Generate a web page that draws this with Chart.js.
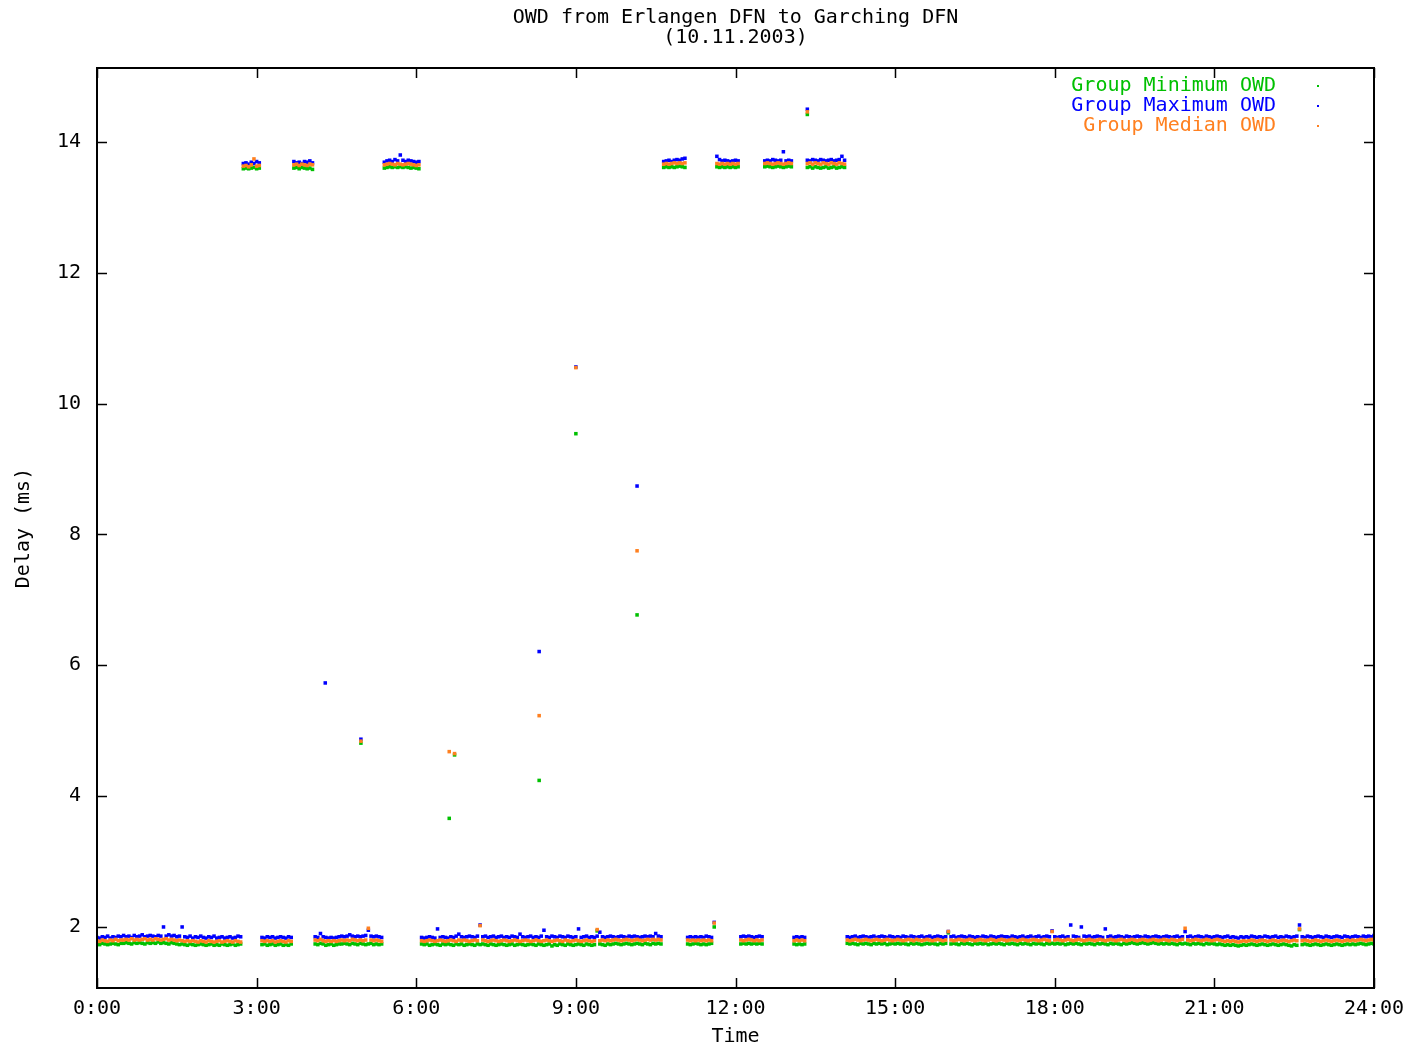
<!DOCTYPE html>
<html lang="en">
<head>
<meta charset="UTF-8">
<title>OWD from Erlangen DFN to Garching DFN</title>
<script src="https://cdn.jsdelivr.net/npm/chart.js"></script>
<style>
    body { margin: 0; background: #ffffff; }
    canvas { display: block; }
</style>
</head>
<body>
<canvas id="owd" width="1409" height="1047"></canvas>
<script>
// samples inside each measurement run, every 0.05 h (3 min)
const STEP = 0.05;
const segStart = [0, 2.75, 3.10, 3.70, 4.10, 5.40, 6.10, 10.65, 11.10, 11.65, 12.10, 12.55, 13.10, 13.35, 14.10];

const xTicks = [0, 3, 6, 9, 12, 15, 18, 21, 24];
const xTickLabels = ['0:00', '3:00', '6:00', '9:00', '12:00', '15:00', '18:00', '21:00', '24:00'];
const yTicks = [2, 4, 6, 8, 10, 12, 14];
const yTickLabels = ['2', '4', '6', '8', '10', '12', '14'];

// Group Maximum OWD (ms), one array per run
const maxBands = [
    [1.84,1.83,1.85,1.84,1.86,1.83,1.85,1.84,1.86,1.85, 1.87,1.85,1.86,1.84,1.87,1.85,1.86,1.88,1.85,1.86,
     1.87,1.86,1.85,1.87,1.86,2.00,1.86,1.88,1.86,1.87, 1.85,1.86,2.00,1.85,1.84,1.86,1.83,1.85,1.84,1.86,
     1.84,1.83,1.85,1.84,1.86,1.83,1.84,1.85,1.83,1.84, 1.85,1.83,1.84,1.86,1.85],
    [13.67,13.68,13.66,13.69,13.67,13.70,13.68],
    [1.84,1.83,1.85,1.84,1.85,1.83,1.84,1.85,1.84,1.83,1.85,1.84],
    [13.70,13.68,13.69,13.67,13.70,13.69,13.71,13.68],
    [1.85,1.84,1.90,1.85,1.84,1.83,1.84,1.83,1.84,1.85, 1.86,1.85,1.86,1.88,1.86,1.85,1.86,1.85,1.86,1.87,
     1.95,1.86,1.85,1.86,1.85,1.84],
    [13.69,13.71,13.72,13.70,13.73,13.71,13.80,13.72,13.70,13.72,13.71,13.70,13.69,13.70],
    [1.84,1.83,1.84,1.85,1.84,1.83,1.97,1.84,1.85,1.84, 1.83,1.85,1.84,1.86,1.89,1.85,1.84,1.85,1.86,1.85,
     1.84,1.86,2.03,1.85,1.86,1.84,1.85,1.86,1.84,1.85, 1.86,1.84,1.85,1.84,1.86,1.85,1.84,1.89,1.85,1.84,
     1.85,1.86,1.84,1.85,1.84,1.86,1.95,1.85,1.84,1.86, 1.85,1.84,1.86,1.85,1.84,1.86,1.85,1.84,1.85,1.97,
     1.84,1.85,1.86,1.84,1.85,1.84,1.86,1.92,1.85,1.84, 1.85,1.86,1.85,1.84,1.85,1.86,1.85,1.84,1.86,1.85,
     1.86,1.85,1.84,1.85,1.86,1.85,1.86,1.85,1.90,1.86, 1.85],
    [13.70,13.71,13.72,13.70,13.72,13.73,13.72,13.74,13.75],
    [1.84,1.85,1.84,1.85,1.84,1.85,1.84,1.86,1.85,1.84,2.07],
    [13.78,13.73,13.71,13.72,13.71,13.70,13.71,13.72,13.71],
    [1.85,1.86,1.85,1.86,1.85,1.84,1.85,1.86,1.85],
    [13.71,13.72,13.71,13.73,13.72,13.71,13.72,13.85,13.71,13.72,13.71],
    [1.84,1.85,1.84,1.85,1.84],
    [13.72,13.71,13.73,13.72,13.71,13.73,13.72,13.71,13.72,13.73,13.71,13.72,13.73,13.78,13.72],
    [1.85,1.84,1.85,1.86,1.84,1.85,1.86,1.85,1.84,1.85, 1.86,1.84,1.85,1.86,1.85,1.84,1.86,1.85,1.84,1.85,
     1.84,1.86,1.85,1.84,1.86,1.85,1.84,1.85,1.86,1.84, 1.85,1.86,1.84,1.85,1.86,1.85,1.84,1.85,1.93,1.85,
     1.86,1.84,1.85,1.86,1.85,1.84,1.86,1.85,1.84,1.85, 1.84,1.86,1.85,1.84,1.86,1.85,1.84,1.85,1.86,1.85,
     1.85,1.84,1.86,1.85,1.84,1.85,1.86,1.84,1.85,1.86, 1.84,1.85,1.86,1.84,1.85,1.86,1.85,1.94,1.85,1.84,
     1.85,1.86,1.84,1.85,2.03,1.86,1.85,1.84,2.00,1.86, 1.85,1.86,1.84,1.85,1.86,1.85,1.84,1.97,1.85,1.86,
     1.84,1.85,1.86,1.85,1.84,1.86,1.85,1.84,1.85,1.86, 1.85,1.84,1.86,1.85,1.84,1.85,1.86,1.85,1.84,1.85,
     1.86,1.85,1.84,1.85,1.86,1.84,1.85,1.93,1.85,1.86, 1.84,1.85,1.86,1.85,1.84,1.86,1.85,1.84,1.85,1.86,
     1.85,1.84,1.85,1.86,1.84,1.85,1.84,1.83,1.85,1.84, 1.85,1.84,1.86,1.85,1.84,1.85,1.84,1.86,1.85,1.84,
     1.85,1.86,1.84,1.85,1.84,1.86,1.85,1.84,1.85,1.86, 2.03,1.85,1.84,1.86,1.85,1.84,1.85,1.86,1.85,1.84,
     1.86,1.85,1.84,1.85,1.86,1.85,1.84,1.86,1.85,1.84, 1.85,1.86,1.85,1.84,1.86,1.85,1.86,1.85,1.87]
];

// Group Median OWD (ms)
const medBands = [
    [1.79,1.78,1.80,1.79,1.78,1.80,1.79,1.81,1.79,1.80, 1.80,1.81,1.80,1.82,1.80,1.81,1.80,1.81,1.82,1.80,
     1.81,1.80,1.82,1.81,1.80,1.81,1.82,1.80,1.81,1.80, 1.79,1.80,1.79,1.78,1.79,1.78,1.79,1.78,1.77,1.79,
     1.78,1.77,1.79,1.78,1.77,1.78,1.79,1.77,1.78,1.79, 1.78,1.77,1.79,1.78,1.77],
    [13.63,13.64,13.62,13.65,13.74,13.63,13.64],
    [1.79,1.78,1.79,1.78,1.79,1.77,1.78,1.79,1.78,1.77,1.79,1.78],
    [13.65,13.66,13.64,13.66,13.65,13.64,13.66,13.65],
    [1.80,1.79,1.81,1.79,1.78,1.79,1.78,1.79,1.78,1.79, 1.80,1.79,1.80,1.79,1.81,1.80,1.79,1.80,1.79,1.80,
     1.98,1.80,1.79,1.80,1.79,1.78],
    [13.65,13.66,13.67,13.66,13.65,13.67,13.66,13.65,13.66,13.67,13.66,13.65,13.64,13.65],
    [1.79,1.78,1.79,1.80,1.79,1.78,1.79,1.80,1.79,1.78, 1.79,1.80,1.79,1.78,1.80,1.79,1.80,1.79,1.78,1.79,
     1.80,1.79,2.02,1.80,1.79,1.78,1.79,1.80,1.79,1.78, 1.79,1.80,1.79,1.78,1.79,1.80,1.79,1.78,1.79,1.80,
     1.79,1.78,1.79,1.80,1.79,1.78,1.79,1.80,1.79,1.78, 1.79,1.80,1.79,1.78,1.80,1.79,1.78,1.79,1.80,1.79,
     1.78,1.79,1.80,1.79,1.78,1.79,1.96,1.79,1.80,1.79, 1.80,1.79,1.80,1.81,1.80,1.79,1.80,1.81,1.80,1.79,
     1.80,1.81,1.80,1.79,1.80,1.81,1.80,1.81,1.80,1.81, 1.80],
    [13.66,13.67,13.66,13.67,13.68,13.67,13.68,13.67,13.68],
    [1.80,1.79,1.80,1.79,1.80,1.79,1.80,1.79,1.80,1.79,2.06],
    [13.67,13.66,13.67,13.66,13.67,13.66,13.67,13.66,13.67],
    [1.80,1.79,1.80,1.81,1.80,1.79,1.80,1.79,1.80],
    [13.67,13.68,13.67,13.66,13.67,13.68,13.67,13.66,13.67,13.68,13.67],
    [1.79,1.80,1.79,1.80,1.79],
    [13.67,13.68,13.66,13.68,13.67,13.66,13.68,13.67,13.66,13.68,13.67,13.66,13.68,13.67,13.66],
    [1.80,1.79,1.80,1.81,1.80,1.79,1.80,1.81,1.80,1.79, 1.80,1.81,1.80,1.79,1.80,1.81,1.80,1.79,1.80,1.81,
     1.80,1.79,1.80,1.81,1.80,1.79,1.81,1.80,1.79,1.80, 1.81,1.80,1.79,1.80,1.81,1.80,1.79,1.80,1.93,1.80,
     1.79,1.80,1.81,1.80,1.79,1.80,1.81,1.80,1.79,1.80, 1.81,1.80,1.79,1.80,1.81,1.80,1.79,1.80,1.81,1.80,
     1.79,1.80,1.81,1.80,1.79,1.80,1.81,1.80,1.79,1.80, 1.81,1.80,1.79,1.80,1.81,1.80,1.79,1.93,1.80,1.81,
     1.80,1.79,1.80,1.81,1.80,1.79,1.80,1.81,1.80,1.79, 1.80,1.81,1.80,1.79,1.80,1.81,1.80,1.79,1.80,1.81,
     1.80,1.79,1.80,1.81,1.80,1.79,1.80,1.81,1.80,1.79, 1.80,1.81,1.80,1.79,1.80,1.81,1.80,1.79,1.80,1.81,
     1.80,1.79,1.81,1.80,1.79,1.80,1.81,1.98,1.80,1.79, 1.80,1.81,1.80,1.79,1.80,1.81,1.80,1.79,1.80,1.81,
     1.80,1.79,1.78,1.79,1.78,1.79,1.78,1.77,1.78,1.79, 1.78,1.79,1.80,1.79,1.78,1.79,1.80,1.79,1.78,1.79,
     1.80,1.79,1.78,1.79,1.80,1.79,1.78,1.79,1.80,1.79, 1.97,1.79,1.80,1.79,1.78,1.79,1.80,1.79,1.78,1.79,
     1.80,1.79,1.78,1.79,1.80,1.79,1.78,1.79,1.80,1.79, 1.80,1.79,1.80,1.81,1.80,1.79,1.80,1.81,1.80]
];

// Group Minimum OWD (ms)
const minBands = [
    [1.74,1.73,1.75,1.74,1.73,1.74,1.75,1.74,1.73,1.75, 1.75,1.76,1.75,1.74,1.76,1.75,1.76,1.75,1.74,1.76,
     1.75,1.76,1.75,1.77,1.75,1.76,1.75,1.74,1.76,1.75, 1.74,1.73,1.74,1.73,1.72,1.74,1.73,1.72,1.73,1.74,
     1.73,1.72,1.73,1.74,1.72,1.73,1.72,1.74,1.73,1.72, 1.73,1.74,1.72,1.73,1.74],
    [13.59,13.60,13.59,13.60,13.61,13.59,13.60],
    [1.73,1.74,1.72,1.73,1.74,1.72,1.73,1.74,1.72,1.73,1.72,1.74],
    [13.60,13.61,13.59,13.61,13.60,13.59,13.60,13.58],
    [1.74,1.73,1.75,1.74,1.72,1.73,1.74,1.72,1.73,1.74, 1.74,1.75,1.74,1.73,1.75,1.74,1.73,1.75,1.74,1.73,
     1.74,1.75,1.73,1.74,1.73,1.74],
    [13.60,13.61,13.62,13.61,13.62,13.61,13.62,13.61,13.62,13.61,13.60,13.61,13.60,13.59],
    [1.74,1.73,1.74,1.72,1.73,1.74,1.73,1.72,1.74,1.73, 1.74,1.73,1.72,1.74,1.73,1.74,1.72,1.73,1.74,1.73,
     1.72,1.74,1.73,1.74,1.73,1.72,1.74,1.73,1.72,1.73, 1.74,1.73,1.72,1.73,1.74,1.72,1.73,1.74,1.73,1.72,
     1.73,1.74,1.73,1.72,1.74,1.73,1.72,1.73,1.74,1.71, 1.73,1.72,1.74,1.73,1.72,1.74,1.73,1.72,1.73,1.74,
     1.73,1.72,1.74,1.73,1.72,1.73,1.94,1.74,1.73,1.72, 1.74,1.73,1.74,1.75,1.74,1.73,1.74,1.75,1.74,1.73,
     1.74,1.75,1.74,1.73,1.75,1.74,1.73,1.75,1.74,1.75, 1.74],
    [13.61,13.62,13.61,13.62,13.61,13.62,13.63,13.62,13.61],
    [1.74,1.73,1.74,1.75,1.74,1.73,1.74,1.73,1.74,1.75,2.00],
    [13.62,13.61,13.62,13.61,13.62,13.61,13.62,13.61,13.62],
    [1.74,1.75,1.74,1.75,1.74,1.75,1.74,1.75,1.74],
    [13.62,13.63,13.62,13.61,13.62,13.63,13.62,13.61,13.62,13.63,13.62],
    [1.74,1.73,1.74,1.73,1.74],
    [13.61,13.62,13.60,13.62,13.61,13.60,13.61,13.62,13.60,13.61,13.62,13.60,13.61,13.62,13.61],
    [1.75,1.74,1.75,1.74,1.73,1.75,1.74,1.75,1.74,1.73, 1.75,1.74,1.75,1.74,1.75,1.73,1.74,1.75,1.74,1.75,
     1.74,1.75,1.74,1.73,1.75,1.74,1.75,1.74,1.73,1.74, 1.75,1.74,1.75,1.74,1.73,1.75,1.74,1.75,1.91,1.74,
     1.75,1.74,1.73,1.75,1.74,1.75,1.74,1.73,1.75,1.74, 1.75,1.74,1.75,1.73,1.74,1.75,1.74,1.75,1.74,1.73,
     1.75,1.74,1.75,1.74,1.73,1.75,1.74,1.75,1.74,1.73, 1.75,1.74,1.75,1.74,1.73,1.75,1.74,1.75,1.74,1.75,
     1.74,1.75,1.73,1.74,1.75,1.74,1.75,1.74,1.73,1.75, 1.74,1.75,1.74,1.73,1.75,1.74,1.75,1.74,1.73,1.75,
     1.74,1.75,1.74,1.73,1.75,1.74,1.75,1.76,1.75,1.74, 1.75,1.76,1.75,1.74,1.75,1.76,1.75,1.74,1.75,1.74,
     1.75,1.74,1.75,1.74,1.73,1.75,1.74,1.75,1.74,1.73, 1.75,1.74,1.75,1.74,1.73,1.75,1.74,1.75,1.74,1.73,
     1.74,1.73,1.72,1.73,1.72,1.73,1.72,1.71,1.72,1.73, 1.72,1.73,1.74,1.73,1.72,1.73,1.74,1.73,1.72,1.73,
     1.74,1.73,1.72,1.73,1.74,1.73,1.72,1.71,1.73,1.72, 1.96,1.73,1.74,1.73,1.72,1.73,1.74,1.73,1.72,1.73,
     1.74,1.73,1.72,1.73,1.74,1.73,1.72,1.73,1.74,1.73, 1.74,1.73,1.74,1.75,1.74,1.73,1.74,1.75,1.74]
];

// isolated samples during the route changes
const outTime = [4.29, 4.96, 6.62, 6.72, 8.31, 9.00, 10.15, 13.35];
const outMax = [5.73, 4.87, null, null, 6.21, 10.56, 8.74, 14.50];
const outMed = [null, 4.84, 4.68, 4.65, 5.23, 10.55, 7.75, 14.46];
const outMin = [null, 4.81, 3.66, 4.63, 4.24, 9.54, 6.77, 14.42];

const FONT = 'DejaVu Sans Mono';
const GREEN = '#00c000';
const BLUE = '#0000ff';
const ORANGE = '#ff8020';

function toPoints(bands, outVals) {
    const pts = [];
    bands.forEach((vals, s) => {
        vals.forEach((v, i) => pts.push({ x: segStart[s] + i * STEP, y: v }));
    });
    outTime.forEach((t, i) => {
        if (outVals[i] !== null) pts.push({ x: t, y: outVals[i] });
    });
    return pts;
}

function dots(label, data, color, order) {
    return {
        label: label,
        data: data,
        order: order,
        showLine: false,
        pointStyle: 'rect',
        pointRadius: 2.5,
        pointBorderWidth: 0,
        pointBackgroundColor: color,
        pointBorderColor: color,
        backgroundColor: color,
        borderColor: color
    };
}

// title, frame, inward ticks, legend and axis names like the gnuplot original
const gnuplotDecor = {
    id: 'gnuplotDecor',
    afterDatasetsDraw(chart) {
        const ctx = chart.ctx;
        const a = chart.chartArea;
        const xs = chart.scales.x;
        const ys = chart.scales.y;
        ctx.save();
        ctx.strokeStyle = '#000';
        ctx.lineWidth = 2;
        ctx.strokeRect(a.left, a.top, a.right - a.left, a.bottom - a.top);
        ctx.lineWidth = 1.5;
        ctx.beginPath();
        xTicks.forEach(v => {
            const px = Math.round(xs.getPixelForValue(v)) + 0.5;
            ctx.moveTo(px, a.bottom); ctx.lineTo(px, a.bottom - 10);
            ctx.moveTo(px, a.top); ctx.lineTo(px, a.top + 10);
        });
        yTicks.forEach(v => {
            const py = Math.round(ys.getPixelForValue(v)) + 0.5;
            ctx.moveTo(a.left, py); ctx.lineTo(a.left + 10, py);
            ctx.moveTo(a.right, py); ctx.lineTo(a.right - 10, py);
        });
        ctx.stroke();

        ctx.font = '20px "' + FONT + '"';
        ctx.fillStyle = '#000';
        ctx.textAlign = 'center';
        ctx.textBaseline = 'middle';
        const cx = (a.left + a.right) / 2;
        ctx.fillText('OWD from Erlangen DFN to Garching DFN', cx, 18);
        ctx.fillText('(10.11.2003)', cx, 38);
        ctx.fillText('Time', cx, 1037);

        ctx.save();
        ctx.translate(24, 528);
        ctx.rotate(-Math.PI / 2);
        ctx.fillText('Delay (ms)', 0, 0);
        ctx.restore();

        ctx.textAlign = 'right';
        chart.data.datasets.forEach((ds, i) => {
            const y = 86 + i * 20;
            ctx.fillStyle = ds.pointBackgroundColor;
            ctx.fillText(ds.label, 1276, y);
            ctx.fillRect(1317, y - 1, 2, 2);
        });
        ctx.restore();
    }
};

new Chart(document.getElementById('owd'), {
    type: 'scatter',
    data: {
        datasets: [
            dots('Group Minimum OWD', toPoints(minBands, outMin), GREEN, 2),
            dots('Group Maximum OWD', toPoints(maxBands, outMax), BLUE, 1),
            dots('Group Median OWD', toPoints(medBands, outMed), ORANGE, 0)
        ]
    },
    options: {
        responsive: false,
        devicePixelRatio: 1,
        animation: false,
        layout: { padding: { top: 68, right: 35, left: 0, bottom: 0 } },
        plugins: {
            legend: { display: false },
            tooltip: { enabled: false }
        },
        scales: {
            x: {
                type: 'linear',
                min: 0,
                max: 24,
                grid: { display: false, drawTicks: false },
                border: { display: false },
                afterBuildTicks: s => { s.ticks = xTicks.map(v => ({ value: v })); },
                afterFit: s => { s.height = 59; s.paddingLeft = 0; s.paddingRight = 0; },
                ticks: {
                    padding: 9,
                    maxRotation: 0,
                    color: '#000',
                    font: { family: FONT, size: 20 },
                    callback: v => xTickLabels[xTicks.indexOf(v)]
                }
            },
            y: {
                type: 'linear',
                min: 1.067,
                max: 15.13,
                grid: { display: false, drawTicks: false },
                border: { display: false },
                afterBuildTicks: s => { s.ticks = yTicks.map(v => ({ value: v })); },
                afterFit: s => { s.width = 97; s.paddingTop = 0; s.paddingBottom = 0; },
                ticks: {
                    padding: 16,
                    color: '#000',
                    font: { family: FONT, size: 20 },
                    callback: v => yTickLabels[yTicks.indexOf(v)]
                }
            }
        }
    },
    plugins: [gnuplotDecor]
});
</script>
</body>
</html>
